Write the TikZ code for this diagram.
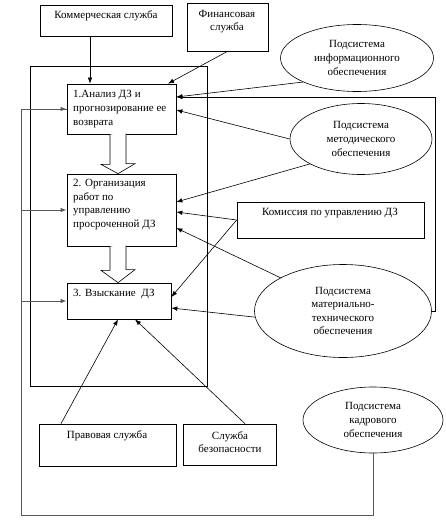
\documentclass[tikz,border=0pt]{standalone}
\usepackage{fontspec}
\setmainfont{Liberation Serif}
\usetikzlibrary{shapes.geometric,arrows.meta,calc}
\begin{document}
\begin{tikzpicture}[x=1pt,y=-1pt,
  every node/.style={font=\fontsize{11}{13.6}\selectfont},
  boxn/.style={draw,line width=0.7pt,rectangle,inner sep=0pt},
  ell/.style={draw,line width=0.6pt,ellipse,inner sep=0pt,align=center},
  txt/.style={inner sep=0pt,align=center},
  txtl/.style={inner sep=0pt,align=left,anchor=west},
  arr/.style={line width=0.6pt,-{Latex[length=6pt,width=4.5pt]}},
  ln/.style={line width=0.6pt},
  fb/.style={line width=1pt,draw=black!65},
  hollow/.style={draw,line width=0.6pt,fill=white}
]
\useasboundingbox (0,0) rectangle (445,525);
% boxes
\node[boxn,minimum width=132pt,minimum height=31pt] (com) at (106,20.5) {};
\node[boxn,minimum width=81pt,minimum height=48pt] (fin) at (227.5,27) {};
\node[boxn,minimum width=177pt,minimum height=320pt] (frame) at (118.5,226) {};
\node[boxn,minimum width=109pt,minimum height=50pt] (b1) at (121.5,109) {};
\node[boxn,minimum width=109pt,minimum height=72pt] (b2) at (121.5,210) {};
\node[boxn,minimum width=104pt,minimum height=36pt] (b3) at (119,301) {};
\node[boxn,minimum width=187pt,minimum height=36pt] (kom) at (330.5,220) {};
\node[boxn,minimum width=137pt,minimum height=42pt] (prav) at (107.5,445) {};
\node[boxn,minimum width=93pt,minimum height=41pt] (bez) at (229.5,444.5) {};
% ellipses
\node[ell,minimum width=153pt,minimum height=67pt] (infoE) at (357,58) {Подсистема\\информационного\\обеспечения};
\node[ell,minimum width=142pt,minimum height=71pt] (methE) at (361,139) {Подсистема\\методического\\обеспечения};
\node[ell,minimum width=177pt,minimum height=93pt] (matE) at (343,311) {Подсистема\\материально-\\технического\\обеспечения};
\node[ell,minimum width=140pt,minimum height=66pt] (kadrE) at (373,420) {Подсистема\\кадрового\\обеспечения};
% texts
\node[txt] (tcom) at (106,16) {Коммерческая служба};
\node[txt] (tfin) at (227,21.5) {Финансовая\\служба};
\node[txtl] (tb1) at (73,109) {1.Анализ ДЗ и\\прогнозирование ее\\возврата};
\node[txtl] (tb2) at (73,204.5) {2. Организация\\работ по\\управлению\\просроченной ДЗ};
\node[txtl] (tb3) at (73,294) {3. Взыскание\ \ ДЗ};
\node[txt] (tkom) at (330,213) {Комиссия по управлению ДЗ};
\node[txt] (tprav) at (107,436) {Правовая служба};
\node[txt] (tbez) at (230,442) {Служба\\безопасности};
% hollow arrows
\draw[hollow] (b1.south -| 110,0) -- ++(0,30) -- ++(-9,0) -- (b2.north -| 118,0) -- ++(17,-10) -- ++(-9,0) -- ++(0,-30);
\draw[hollow] (b2.south -| 110,0) -- ++(0,24) -- ++(-9,0) -- (b3.north -| 118,0) -- ++(17,-13) -- ++(-9,0) -- ++(0,-24);
% connectors
\draw[arr] (com.south -| 90,0) -- (b1.north -| 90,0);
\draw[arr] (fin.south) -- (b1.north -| 168,0);
\draw[arr] (infoE.204) -- (b1.east |- 0,97);
\draw[arr] (matE.east) -| (435,97) -- (b1.east |- 0,97);
\draw[arr] (methE.180) -- (b1.east |- 0,110);
\draw[arr] (methE.206) -- (b2.east |- 0,202);
\draw[arr] (kom.west) -- (b2.east |- 0,212);
\draw[arr] (kom.west) -- (b3.east |- 0,297);
\draw[arr] (matE.152) -- (b2.east |- 0,228);
\draw[arr] (matE.184) -- (b3.east |- 0,308);
\draw[arr] (prav.north -| 61,0) -- (b3.south -| 118,0);
\draw[arr] (bez.north -| 245,0) -- (b3.south -| 135,0);
% feedback from kadr
\coordinate (fbl) at (21,515);
\draw[fb] (kadrE.south) |- (fbl) |- (b1.west);
\draw[arr,fb] (fbl |- b1.west) -- (b1.west);
\draw[arr,fb] (fbl |- b2.west) -- (b2.west);
\draw[arr,fb] (fbl |- b3.west) -- (b3.west);
\end{tikzpicture}
\end{document}
